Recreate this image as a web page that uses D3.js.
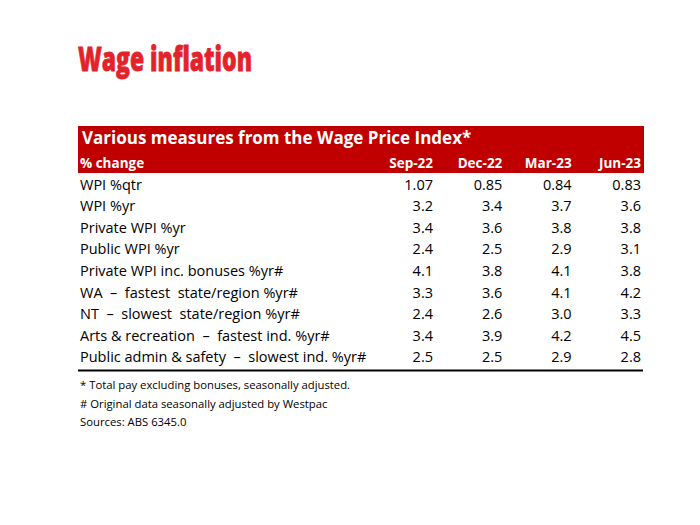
<!DOCTYPE html>
<html>
<head>
<meta charset="utf-8">
<script src="https://cdn.jsdelivr.net/npm/d3@7"></script>
<style>
  body { margin: 0; background: #fff; }
  svg { display: block; }
  text { font-family: "Open Sans", "Noto Sans", sans-serif; }
</style>
</head>
<body>
<svg id="chart" width="700" height="525"></svg>
<script>
// table contents
const title = "Wage inflation";
const tableTitle = "Various measures from the Wage Price Index*";
const unitLabel = "% change";
const periods = ["Sep-22", "Dec-22", "Mar-23", "Jun-23"];
const measures = [
  "WPI %qtr",
  "WPI %yr",
  "Private WPI %yr",
  "Public WPI %yr",
  "Private WPI inc. bonuses %yr#",
  "WA  \u2013  fastest  state/region %yr#",
  "NT  \u2013  slowest  state/region %yr#",
  "Arts & recreation  \u2013  fastest ind. %yr#",
  "Public admin & safety  \u2013  slowest ind. %yr#"
];
const sep22 = [1.07, 3.2, 3.4, 2.4, 4.1, 3.3, 2.4, 3.4, 2.5];
const dec22 = [0.85, 3.4, 3.6, 2.5, 3.8, 3.6, 2.6, 3.9, 2.5];
const mar23 = [0.84, 3.7, 3.8, 2.9, 4.1, 4.1, 3.0, 4.2, 2.9];
const jun23 = [0.83, 3.6, 3.8, 3.1, 3.8, 4.2, 3.3, 4.5, 2.8];
const decimals = [2, 1, 1, 1, 1, 1, 1, 1, 1];
const notes = [
  "* Total pay excluding bonuses, seasonally adjusted.",
  "# Original data seasonally adjusted by Westpac",
  "Sources: ABS 6345.0"
];

const series = [sep22, dec22, mar23, jun23];

const svg = d3.select("#chart");
const red = "#c00000";

const left = 78, right = 644;

// page title
svg.append("text")
  .attr("x", 78)
  .attr("y", 71)
  .attr("fill", "#e3232c")
  .attr("stroke", "#e3232c")
  .attr("stroke-width", 0.8)
  .attr("font-family", "Roboto, 'Open Sans', sans-serif")
  .attr("font-size", 34)
  .attr("font-weight", 900)
  .attr("textLength", 174)
  .attr("lengthAdjust", "spacingAndGlyphs")
  .text(title);

// header block
svg.append("rect")
  .attr("x", left)
  .attr("y", 126)
  .attr("width", right - left)
  .attr("height", 47)
  .attr("fill", red);

svg.append("text")
  .attr("x", 82)
  .attr("y", 144)
  .attr("fill", "#fff")
  .attr("font-size", 17)
  .attr("font-weight", 700)
  .text(tableTitle);

svg.append("text")
  .attr("x", 80)
  .attr("y", 168)
  .attr("fill", "#fff")
  .attr("font-size", 13.5)
  .attr("font-weight", 700)
  .text(unitLabel);

// column positions (right edge of each numeric column)
const x = d3.scalePoint()
  .domain(periods)
  .range([433, 641]);

svg.selectAll(".period")
  .data(periods)
  .join("text")
  .attr("class", "period")
  .attr("x", d => x(d))
  .attr("y", 168)
  .attr("text-anchor", "end")
  .attr("fill", "#fff")
  .attr("font-size", 13.5)
  .attr("font-weight", 700)
  .text(d => d);

// rows
const y = d3.scaleBand()
  .domain(measures)
  .range([174, 368]);

const rows = svg.selectAll(".row")
  .data(measures)
  .join("g")
  .attr("class", "row")
  .attr("transform", d => `translate(0,${y(d) + y.bandwidth() / 2 + 5})`);

rows.append("text")
  .attr("x", 80)
  .attr("fill", "#000")
  .attr("font-size", 14.5)
  .attr("xml:space", "preserve")
  .style("white-space", "pre")
  .text(d => d);

rows.each(function (m, i) {
  d3.select(this).selectAll(".val")
    .data(periods)
    .join("text")
    .attr("class", "val")
    .attr("x", p => x(p))
    .attr("text-anchor", "end")
    .attr("fill", "#000")
    .attr("font-size", 14.5)
    .text((p, j) => series[j][i].toFixed(decimals[i]));
});

// bottom rule
svg.append("line")
  .attr("x1", left)
  .attr("x2", right - 1)
  .attr("y1", 370.5)
  .attr("y2", 370.5)
  .attr("stroke", "#000")
  .attr("stroke-width", 2);

// footnotes
svg.selectAll(".note")
  .data(notes)
  .join("text")
  .attr("class", "note")
  .attr("x", 80)
  .attr("y", (d, i) => 389 + i * 18.5)
  .attr("fill", "#000")
  .attr("font-size", 11.3)
  .text(d => d);
</script>
</body>
</html>
